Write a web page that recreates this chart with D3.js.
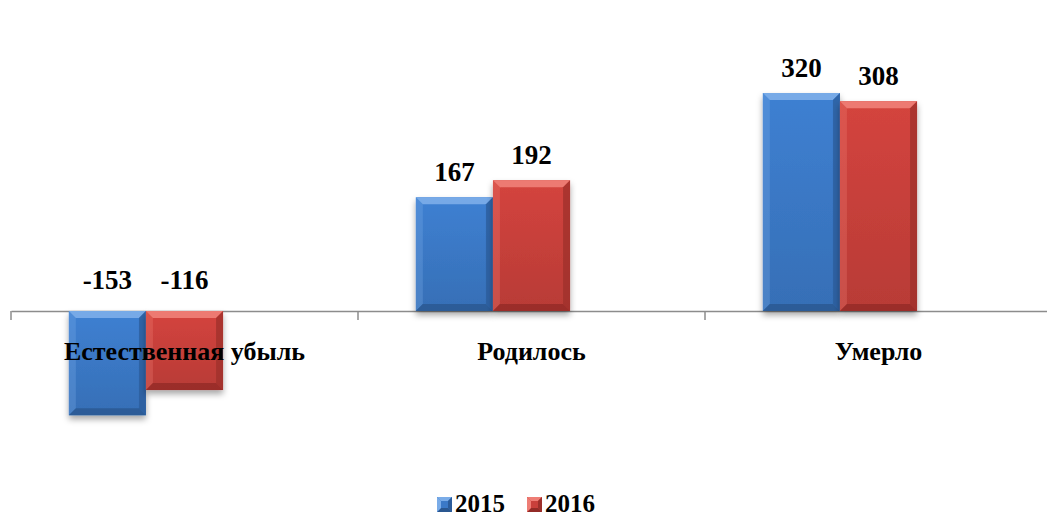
<!DOCTYPE html>
<html>
<head>
<meta charset="utf-8">
<script src="https://cdn.jsdelivr.net/npm/d3@7"></script>
<style>
    body { margin: 0; background: #fff; }
    svg { display: block; }
    text { font-family: "Liberation Serif", "Times New Roman", serif; font-weight: bold; fill: #000; }
</style>
</head>
<body>
<div id="chart"></div>
<script>
const categories = ['Естественная убыль', 'Родилось', 'Умерло'];
const seriesNames = ['2015', '2016'];
const values2015 = [-153, 167, 320];
const values2016 = [-116, 192, 308];

const WIDTH = 1047;
const HEIGHT = 518;
const COLORS = {
    '2015': { base: '#3b79c7', light: '#7aace8', dark: '#2b5c9b', darker: '#2a5790' },
    '2016': { base: '#c9403b', light: '#ee7d75', dark: '#9d302b', darker: '#932b27' }
};
const BEVEL = 7;

const svg = d3.select('#chart').append('svg')
    .attr('width', WIDTH)
    .attr('height', HEIGHT);

const defs = svg.append('defs');
const shadow = defs.append('filter')
    .attr('id', 'shadow')
    .attr('x', '-20%').attr('y', '-20%')
    .attr('width', '140%').attr('height', '140%');
shadow.append('feDropShadow')
    .attr('dx', 0).attr('dy', 4)
    .attr('stdDeviation', 3)
    .attr('flood-color', '#000')
    .attr('flood-opacity', 0.35);

// vertical sheen on the face of each bar
seriesNames.forEach(s => {
    const g = defs.append('linearGradient')
        .attr('id', 'face' + s)
        .attr('x1', 0).attr('y1', 0).attr('x2', 0).attr('y2', 1);
    g.append('stop').attr('offset', '0%').attr('stop-color', d3.color(COLORS[s].base).brighter(0.15));
    g.append('stop').attr('offset', '100%').attr('stop-color', d3.color(COLORS[s].base).darker(0.25));
});

// scales
const x = d3.scaleBand()
    .domain(categories)
    .range([11, 1052])
    .padding(0);

// three slots per category, the third one is empty (as in the source chart)
const xSub = d3.scaleBand()
    .domain([0, 1, 2])
    .range([0, x.bandwidth()])
    .paddingInner(0)
    .paddingOuter(0.75);

const y = d3.scaleLinear()
    .domain([-200, 400])
    .range([447.25, 38.5]);

const data = [];
categories.forEach((c, i) => {
    data.push({ cat: c, series: '2015', slot: 0, value: values2015[i] });
    data.push({ cat: c, series: '2016', slot: 1, value: values2016[i] });
});

// axis
const axis = d3.axisBottom(x)
    .tickSize(9)
    .tickFormat('')
    .tickSizeOuter(0);
const axisG = svg.append('g')
    .attr('transform', 'translate(0,' + y(0) + ')')
    .call(axis);
axisG.select('.domain').attr('stroke', '#8c8c8c').attr('stroke-width', 1.5);
// ticks sit on the category boundaries, not the centres
axisG.selectAll('.tick').remove();
const boundaries = categories.map(c => x(c)).concat([x.range()[1]]);
axisG.selectAll('line.bound')
    .data(boundaries)
    .join('line')
        .attr('class', 'bound')
        .attr('x1', d => d).attr('x2', d => d)
        .attr('y1', 0).attr('y2', 9)
        .attr('stroke', '#8c8c8c')
        .attr('stroke-width', 1.5);

// bars
const bars = svg.append('g').selectAll('g.bar')
    .data(data)
    .join('g')
        .attr('class', 'bar');

bars.each(function(d) {
    const g = d3.select(this);
    const x0 = x(d.cat) + xSub(d.slot);
    const w = xSub.bandwidth();
    const y0 = Math.min(y(d.value), y(0));
    const h = Math.abs(y(d.value) - y(0));
    const c = COLORS[d.series];
    const b = Math.min(BEVEL, h / 2);

    g.append('rect')
        .attr('x', x0).attr('y', y0)
        .attr('width', w).attr('height', h)
        .attr('fill', 'url(#face' + d.series + ')')
        .attr('filter', 'url(#shadow)');

    const x1 = x0 + w, y1 = y0 + h;
    const facets = [
        { pts: [[x0, y0], [x1, y0], [x1 - b, y0 + b], [x0 + b, y0 + b]], fill: c.light, op: 0.95 },
        { pts: [[x0, y0], [x0 + b, y0 + b], [x0 + b, y1 - b], [x0, y1]], fill: c.light, op: 0.3 },
        { pts: [[x1, y0], [x1, y1], [x1 - b, y1 - b], [x1 - b, y0 + b]], fill: c.dark, op: 0.75 },
        { pts: [[x0, y1], [x0 + b, y1 - b], [x1 - b, y1 - b], [x1, y1]], fill: c.darker, op: 0.8 }
    ];
    g.selectAll('polygon')
        .data(facets)
        .join('polygon')
            .attr('points', f => f.pts.map(p => p.join(',')).join(' '))
            .attr('fill', f => f.fill)
            .attr('opacity', f => f.op);
});

// value labels
svg.append('g').selectAll('text')
    .data(data)
    .join('text')
        .attr('x', d => x(d.cat) + xSub(d.slot) + xSub.bandwidth() / 2)
        .attr('y', d => d.value >= 0 ? y(d.value) - 16 : y(0) - 22)
        .attr('text-anchor', 'middle')
        .style('font-size', '27px')
        .text(d => d.value);

// category labels
svg.append('g').selectAll('text')
    .data(categories)
    .join('text')
        .attr('x', d => x(d) + x.bandwidth() / 2)
        .attr('y', 360)
        .attr('text-anchor', 'middle')
        .style('font-size', '26px')
        .text(d => d);

// legend
const legend = svg.append('g').attr('transform', 'translate(437,497)');
const legendX = [0, 90];
seriesNames.forEach((s, i) => {
    const c = COLORS[s];
    const lg = legend.append('g').attr('transform', 'translate(' + legendX[i] + ',0)');
    const sz = 15, b = 4;
    lg.append('rect').attr('width', sz).attr('height', sz).attr('fill', c.base);
    const facets = [
        { pts: [[0, 0], [sz, 0], [sz - b, b], [b, b]], fill: c.light },
        { pts: [[sz, 0], [sz, sz], [sz - b, sz - b], [sz - b, b]], fill: c.dark },
        { pts: [[0, sz], [b, sz - b], [sz - b, sz - b], [sz, sz]], fill: c.darker },
        { pts: [[0, 0], [b, b], [b, sz - b], [0, sz]], fill: c.light }
    ];
    lg.selectAll('polygon')
        .data(facets)
        .join('polygon')
            .attr('points', f => f.pts.map(p => p.join(',')).join(' '))
            .attr('fill', f => f.fill);
    lg.append('text')
        .attr('x', 18)
        .attr('y', 15)
        .style('font-size', '25px')
        .text(s);
});
</script>
</body>
</html>
